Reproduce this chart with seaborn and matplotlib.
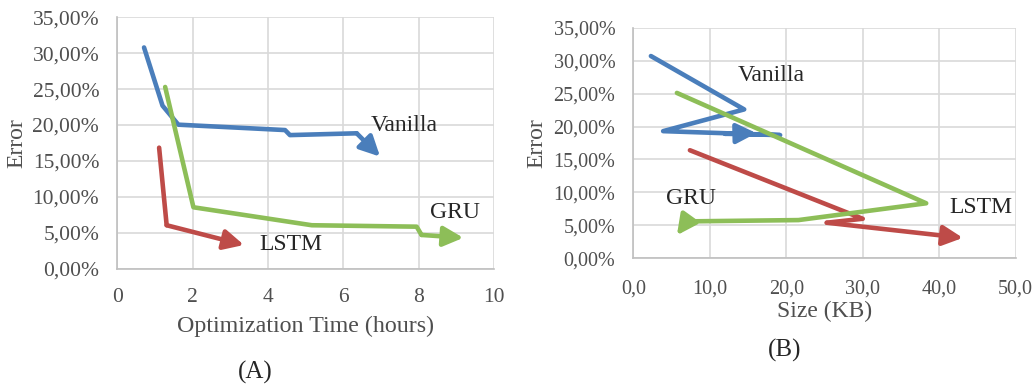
import matplotlib
matplotlib.use("Agg")
import matplotlib.pyplot as plt
import pandas as pd
import seaborn as sns
from matplotlib.ticker import FixedLocator, FixedFormatter

# ---------------- data ----------------
series = ["Vanilla", "LSTM", "GRU"]
colors = {"Vanilla": "#4A7EBB", "LSTM": "#BE4B48", "GRU": "#8DBE58"}

# Panel A: optimization time (hours) vs error (%)
a_vanilla_x = [0.71, 1.20, 1.62, 4.45, 4.58, 6.35, 6.97]
a_vanilla_y = [30.8, 22.7, 20.05, 19.3, 18.6, 18.85, 15.6]
a_lstm_x = [1.11, 1.31, 3.36]
a_lstm_y = [16.85, 6.05, 3.3]
a_gru_x = [1.27, 2.02, 5.16, 7.94, 8.07, 9.18]
a_gru_y = [25.3, 8.55, 6.05, 5.85, 4.7, 4.3]

# Panel B: size (KB) vs error (%)
b_vanilla_x = [2.3, 14.5, 3.9, 19.2, 12.0, 16.1]
b_vanilla_y = [30.7, 22.6, 19.3, 18.7, 18.9, 19.0]
b_lstm_x = [7.4, 30.0, 25.3, 43.1]
b_lstm_y = [16.4, 6.0, 5.4, 3.1]
b_gru_x = [5.7, 38.3, 21.6, 7.0, 5.7]
b_gru_y = [25.1, 8.35, 5.8, 5.6, 3.5]

y_ticks = [0, 5, 10, 15, 20, 25, 30, 35]
y_labels = ["0,00%", "5,00%", "10,00%", "15,00%", "20,00%", "25,00%", "30,00%", "35,00%"]
a_x_ticks = [0, 2, 4, 6, 8, 10]
a_x_labels = ["0", "2", "4", "6", "8", "10"]
b_x_ticks = [0, 10, 20, 30, 40, 50]
b_x_labels = ["0,0", "10,0", "20,0", "30,0", "40,0", "50,0"]

# series label positions (data coords)
a_label_pos = {"Vanilla": (7.6, 20.0), "GRU": (8.95, 7.8), "LSTM": (4.6, 3.3)}
b_label_pos = {"Vanilla": (18.1, 27.8), "GRU": (7.6, 9.0), "LSTM": (45.4, 7.7)}

# ---------------- style ----------------
sns.set_theme(style="white")
plt.rcParams["font.family"] = ["Liberation Serif", "DejaVu Serif"]
TXT = "#4F4F4F"
GRID = "#D9D9D9"

fig = plt.figure(figsize=(10.35, 3.87), dpi=100)
axA = fig.add_axes([0.1133, 0.3057, 0.3643, 0.6496])
axB = fig.add_axes([0.6119, 0.3326, 0.3694, 0.5958])


def draw(ax, data, label_pos, xlim, xticks, xlabels, tick_fs):
    for name, (xs, ys) in data.items():
        df = pd.DataFrame({"x": xs[:-1], "y": ys[:-1]})
        sns.lineplot(data=df, x="x", y="y", ax=ax, sort=False, estimator=None,
                     color=colors[name], linewidth=3.3, zorder=3)
        ax.annotate("", xy=(xs[-1], ys[-1]), xytext=(xs[-2], ys[-2]),
                    arrowprops=dict(arrowstyle="-|>,head_length=0.6,head_width=0.3",
                                    mutation_scale=20, color=colors[name], lw=3.3,
                                    shrinkA=0, shrinkB=0),
                    zorder=3)
        lx, ly = label_pos[name]
        ax.text(lx, ly, name, ha="center", va="center", fontsize=17, color="#262626", zorder=4)
    ax.set_xlim(*xlim)
    ax.set_ylim(0, 35)
    ax.xaxis.set_major_locator(FixedLocator(xticks))
    ax.xaxis.set_major_formatter(FixedFormatter(xlabels))
    ax.yaxis.set_major_locator(FixedLocator(y_ticks))
    ax.yaxis.set_major_formatter(FixedFormatter(y_labels))
    ax.grid(True, color=GRID, linewidth=1.2, zorder=0)
    ax.set_axisbelow(True)
    for s in ["top", "right"]:
        ax.spines[s].set_visible(False)
    for s in ["left", "bottom"]:
        ax.spines[s].set_color("#BFBFBF")
        ax.spines[s].set_linewidth(1.2)
    ax.tick_params(axis="both", length=0, labelsize=tick_fs, colors=TXT)
    ax.tick_params(axis="y", pad=13)


draw(axA,
     {"Vanilla": (a_vanilla_x, a_vanilla_y), "LSTM": (a_lstm_x, a_lstm_y), "GRU": (a_gru_x, a_gru_y)},
     a_label_pos, (0, 10), a_x_ticks, a_x_labels, 15.5)
axA.tick_params(axis="x", pad=14)
axA.set_xlabel("Optimization Time (hours)", fontsize=17.3, color=TXT, labelpad=6)
axA.set_ylabel("Error", fontsize=17, color=TXT, labelpad=4)

draw(axB,
     {"Vanilla": (b_vanilla_x, b_vanilla_y), "LSTM": (b_lstm_x, b_lstm_y), "GRU": (b_gru_x, b_gru_y)},
     b_label_pos, (0, 50), b_x_ticks, b_x_labels, 14.5)
axB.tick_params(axis="x", pad=15)
axB.set_xlabel("Size (KB)", fontsize=17, color=TXT, labelpad=2)
axB.set_ylabel("Error", fontsize=17, color=TXT, labelpad=4)

fig.text(255 / 1035, 1 - 372 / 387, "(A)", ha="center", va="center", fontsize=18, color="#262626")
fig.text(785 / 1035, 1 - 350 / 387, "(B)", ha="center", va="center", fontsize=18, color="#262626")

fig.savefig("out.png", dpi=100)
